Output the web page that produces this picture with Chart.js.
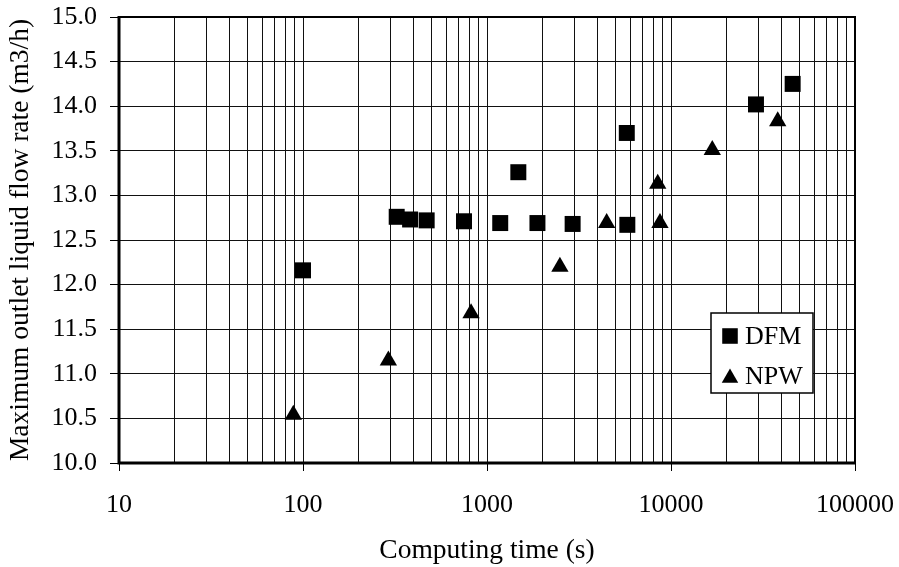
<!DOCTYPE html>
<html>
<head>
<meta charset="utf-8">
<script src="https://cdn.jsdelivr.net/npm/chart.js@4/dist/chart.umd.min.js"></script>
<style>
  html, body { margin: 0; padding: 0; background: #fff; }
  #wrap { width: 899px; height: 567px; }
</style>
</head>
<body>
<div id="wrap"><canvas id="chart" width="899" height="567"></canvas></div>
<script>
// Data
const dfmTime = [100, 323, 382, 470, 750, 1180, 1480, 1880, 2920, 5750, 5790, 28960, 45830];
const dfmFlow = [12.16, 12.76, 12.73, 12.72, 12.71, 12.69, 13.26, 12.69, 12.68, 13.70, 12.67, 14.02, 14.25];

const npwTime = [88.6, 291, 819, 2490, 4470, 8470, 8710, 16760, 38020];
const npwFlow = [10.54, 11.15, 11.68, 12.20, 12.69, 13.13, 12.69, 13.51, 13.83];

const xDecades = [10, 100, 1000, 10000, 100000];
const xMinorSteps = [2, 3, 4, 5, 6, 7, 8, 9];
const yMin = 10, yMax = 15, yStep = 0.5;

const FONT = 'Liberation Serif, Times New Roman, serif';

function toPoints(xs, ys) {
    return xs.map((x, i) => ({ x: x, y: ys[i] }));
}

// all grid positions on the log axis
function xGridValues() {
    const vals = [];
    xDecades.forEach((d, i) => {
        vals.push(d);
        if (i < xDecades.length - 1) {
            xMinorSteps.forEach(m => vals.push(d * m));
        }
    });
    return vals;
}

// Frame round the plot area
const framePlugin = {
    id: 'frame',
    afterDraw(chart) {
        const a = chart.chartArea;
        const ctx = chart.ctx;
        ctx.save();
        ctx.strokeStyle = '#000';
        ctx.lineWidth = 2;
        ctx.strokeRect(a.left, a.top, a.right - a.left, a.bottom - a.top);
        ctx.lineWidth = 3;
        ctx.beginPath();
        ctx.moveTo(a.left, a.top - 1);
        ctx.lineTo(a.left, a.bottom);
        ctx.lineTo(a.right + 1, a.bottom);
        ctx.stroke();
        ctx.restore();
    }
};

// Boxed legend inside the plot area
const boxLegend = {
    id: 'boxLegend',
    afterDraw(chart) {
        const ctx = chart.ctx;
        const x = 711, y = 313, w = 102, h = 80;
        ctx.save();
        ctx.fillStyle = '#fff';
        ctx.fillRect(x, y, w, h);
        ctx.strokeStyle = '#000';
        ctx.lineWidth = 1.5;
        ctx.strokeRect(x, y, w, h);
        chart.data.datasets.forEach((ds, i) => {
            const cy = y + 23 + i * 40;
            ctx.fillStyle = ds.backgroundColor;
            const r = ds.pointStyle === 'rect' ? 11 : 9.5;
            Chart.helpers.drawPoint(ctx, { pointStyle: ds.pointStyle, radius: r, rotation: 0, borderWidth: 0 }, x + 19, cy + (ds.pointStyle === 'triangle' ? 2 : 0));
            ctx.fillStyle = '#000';
            ctx.font = '26px ' + FONT;
            ctx.textBaseline = 'middle';
            ctx.textAlign = 'left';
            ctx.fillText(ds.label, x + 34, cy + 1);
        });
        ctx.restore();
    }
};

const ctx = document.getElementById('chart').getContext('2d');
new Chart(ctx, {
    type: 'scatter',
    data: {
        datasets: [{
            label: 'DFM',
            data: toPoints(dfmTime, dfmFlow),
            pointStyle: 'rect',
            pointRadius: 11.3,
            pointHoverRadius: 11.3,
            backgroundColor: '#000',
            borderColor: '#000',
            borderWidth: 0
        }, {
            label: 'NPW',
            data: toPoints(npwTime, npwFlow),
            pointStyle: 'triangle',
            pointRadius: 10,
            pointHoverRadius: 10,
            backgroundColor: '#000',
            borderColor: '#000',
            borderWidth: 0
        }]
    },
    options: {
        responsive: false,
        animation: false,
        layout: { padding: { left: 0, right: 44, top: 17, bottom: 0 } },
        plugins: {
            legend: { display: false },
            tooltip: { enabled: false }
        },
        scales: {
            x: {
                type: 'logarithmic',
                min: 10,
                max: 100000,
                afterBuildTicks: function(scale) {
                    scale.ticks = xGridValues().map(v => ({ value: v, major: xDecades.includes(v) }));
                },
                afterFit: function(scale) {
                    scale.height = 104;
                    scale.paddingLeft = 0;
                    scale.paddingRight = 0;
                },
                ticks: {
                    autoSkip: false,
                    maxRotation: 0,
                    padding: 19,
                    color: '#000',
                    font: { family: FONT, size: 26 },
                    callback: function(value) {
                        return xDecades.includes(value) ? String(value) : '';
                    }
                },
                grid: {
                    color: '#111',
                    lineWidth: 1,
                    tickLength: 8,
                    tickColor: function(c) {
                        return c.tick && xDecades.includes(c.tick.value) ? '#000' : 'rgba(0,0,0,0)';
                    }
                },
                border: { display: false },
                title: {
                    display: true,
                    text: 'Computing time (s)',
                    color: '#000',
                    font: { family: FONT, size: 27.5 },
                    padding: { top: 0, bottom: 0 }
                }
            },
            y: {
                min: yMin,
                max: yMax,
                afterFit: function(scale) {
                    scale.width = 119;
                    scale.paddingTop = 0;
                    scale.paddingBottom = 0;
                },
                ticks: {
                    stepSize: yStep,
                    padding: 13,
                    color: '#000',
                    font: { family: FONT, size: 26 },
                    callback: function(value) { return value.toFixed(1); }
                },
                grid: {
                    color: '#111',
                    lineWidth: 1,
                    tickLength: 9,
                    tickColor: '#000'
                },
                border: { display: false },
                title: {
                    display: true,
                    text: 'Maximum outlet liquid flow rate (m3/h)',
                    color: '#000',
                    font: { family: FONT, size: 27.5 },
                    padding: { top: 4, bottom: 0 }
                }
            }
        }
    },
    plugins: [framePlugin, boxLegend]
});
</script>
</body>
</html>
